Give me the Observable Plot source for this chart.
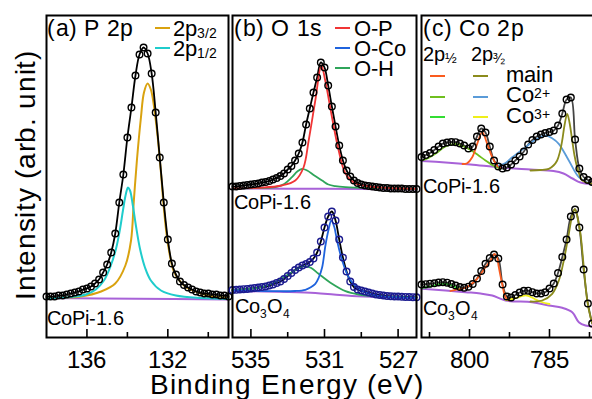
<!DOCTYPE html>
<html><head><meta charset="utf-8">
<script src="https://cdn.jsdelivr.net/npm/d3@7"></script>
<script src="https://cdn.jsdelivr.net/npm/@observablehq/plot@0.6"></script>
<style>
/* same Liberation Sans glyphs, with text boxes trimmed to the ink height */
@font-face{font-family:"TightSans";src:local("Liberation Sans"),local("LiberationSans"),local("Arial");ascent-override:74%;descent-override:16%;line-gap-override:0%}
@font-face{font-family:"TightSub";src:local("Liberation Sans"),local("LiberationSans"),local("Arial");ascent-override:74%;descent-override:0%;line-gap-override:0%}
body{margin:0;background:#fff}
#root{position:relative;width:592px;height:399px;overflow:hidden;background:#fff;font-family:"TightSans","Liberation Sans",Arial,sans-serif;color:#000}
.lbl{position:absolute;white-space:nowrap;line-height:0.8}
.sw{position:absolute;height:0;width:15px;border-top:2px solid}
.lbl sub,.lbl sup{font-size:0.62em;line-height:0}
.lbl sub.t{vertical-align:-0.15em;font-family:"TightSub","Liberation Sans",Arial,sans-serif}
.lbl sub.f{font-size:0.7em;vertical-align:-0.12em;font-family:"TightSub","Liberation Sans",Arial,sans-serif}
.lbl sup.t{vertical-align:0.3em}
</style></head><body><div id="root"></div>
<script>
// ---------- data: [binding energy (eV), intensity (arb.)] ----------
// (a) P 2p, CoPi-1.6
const aMeasured = [[138.0,41],[137.8,41],[137.6,41],[137.4,42],[137.2,42],[137.0,43],[136.8,44],[136.6,45],[136.4,46],[136.2,48],[136.0,49],[135.8,51],[135.6,54],[135.4,58],[135.2,65],[135.0,73],[134.8,85],[134.6,104],[134.4,135],[134.2,163],[134.0,200],[133.8,230],[133.6,262],[133.4,283],[133.2,290],[133.0,284],[132.8,264],[132.6,225],[132.4,180],[132.2,135],[132.0,98],[131.8,74],[131.6,63],[131.4,56],[131.2,52.5],[131.0,50],[130.8,48],[130.6,46],[130.4,45],[130.2,44],[130.0,44],[129.8,43],[129.6,43],[129.4,42],[129.2,42],[129.0,41]];
const aP32 = [[138,39.5],[136.3,41],[135.3,46],[134.6,54],[134.1,72],[133.82,97],[133.68,137],[133.53,177],[133.33,220],[133.18,245],[133.0,254],[132.84,248],[132.69,232],[132.5,200],[132.34,165],[132.2,130],[132.0,94],[131.7,66],[131.35,55],[131.0,49],[130.5,45],[130.0,42],[129,39.5]];
const aP12 = [[138,39],[136.8,40.5],[136.05,43],[135.56,48],[135.16,57],[134.82,72],[134.56,89],[134.36,109],[134.22,127],[134.07,144],[133.97,150],[133.87,147],[133.73,132],[133.58,112],[133.38,89],[133.13,70],[132.84,57],[132.34,47],[131.6,42],[130.36,39.5],[129,38.5]];
const aBase = [[138,39.5],[133.5,38.8],[129,38]];

// (b) O 1s
const bCoPi = [[536.0,151],[535.8,151],[535.6,151.5],[535.4,152],[535.2,152.5],[535.0,153],[534.8,153.5],[534.6,154],[534.4,155],[534.2,155.5],[534.0,156.5],[533.8,158],[533.6,159.5],[533.4,161.5],[533.2,164],[533.0,168],[532.8,171.5],[532.6,177],[532.4,184],[532.2,195],[532.0,213],[531.8,229],[531.6,245],[531.4,260],[531.2,275],[531.0,270],[530.8,252],[530.6,231],[530.4,211],[530.2,192],[530.0,177],[529.8,167],[529.6,161],[529.4,157],[529.2,154.5],[529.0,153],[528.8,152],[528.6,151.5],[528.4,151],[528.2,150.5],[528.0,150],[527.8,149.5],[527.6,149.5],[527.4,149],[527.2,149],[527.0,149],[526.8,149],[526.6,148.5],[526.4,148.5],[526.2,148.5],[526.0,148.5]];
const bCoPiOP = [[536,149],[534.59,149.7],[533.32,152],[532.59,157],[532.14,170],[531.86,197],[531.5,237],[531.17,272],[530.95,256],[530.59,220],[530.23,187],[529.86,164],[529.32,154],[528.23,150.3],[526,148.7]];
const bCoPiOH = [[536,149],[534.5,149.5],[533.68,150.3],[533.19,153.5],[532.77,160.3],[532.48,166],[532.22,168.7],[531.94,167],[531.55,162],[531.13,157],[530.79,153],[530.41,151.3],[529.86,150.3],[526,148.5]];
const bCoPiBase = [[536,149],[531,148.7],[526,148]];
const bCo3O4 = [[536.0,47.5],[535.8,47.7],[535.6,48],[535.4,48.3],[535.2,48.6],[535.0,49],[534.8,49.5],[534.6,50],[534.4,50.5],[534.2,51],[534.0,52],[533.8,53],[533.6,54.5],[533.4,56],[533.2,58.5],[533.0,61.5],[532.8,64.5],[532.6,67.5],[532.4,70],[532.2,72],[532.0,73.5],[531.8,75.5],[531.6,79],[531.4,85],[531.2,96],[531.0,110],[530.8,121],[530.6,126],[530.4,117],[530.2,98],[530.0,80],[529.8,66],[529.6,56],[529.4,50.5],[529.2,48],[529.0,47],[528.8,46],[528.6,45],[528.4,44],[528.2,43],[528.0,42.5],[527.8,42],[527.6,41.5],[527.4,41.2],[527.2,41],[527.0,41],[526.8,40.8],[526.6,40.6],[526.4,40.5],[526.2,40.3],[526.0,40.2]];
const bCo3O4OCo = [[536,47],[533.68,46.3],[532.59,46.5],[532.04,47.7],[531.77,50],[531.5,53.7],[531.31,60],[531.13,70],[530.95,92],[530.79,107],[530.63,117],[530.46,110],[530.32,97],[530.04,77],[529.68,60],[529.14,48.7],[528.23,42],[526,39.7]];
const bCo3O4OH = [[536,47.5],[534.59,49.7],[533.68,55.3],[532.77,65.3],[532.43,69],[532.04,71.3],[531.72,69.5],[531.32,63.7],[530.59,53.7],[529.86,46.3],[529.14,43],[528.23,41.3],[526,40]];
const bCo3O4Base = [[536,46.5],[533,45.5],[531.5,44.5],[530.5,43],[529.5,41.5],[528,40.5],[526,40]];

// (c) Co 2p
const cCoPi = [[809.0,180.5],[808.2,182.5],[807.4,184.5],[806.6,187.5],[805.8,191],[805.0,194],[804.2,195],[803.4,195.5],[802.6,195.3],[801.8,194],[801.0,192],[800.2,189],[799.4,191],[798.6,201],[797.8,209],[797.0,205],[796.2,191],[795.4,177],[794.6,171],[793.8,169],[793.0,170],[792.2,173],[791.4,177],[790.6,181],[789.8,186],[789.0,193],[788.2,197.5],[787.4,201],[786.6,203],[785.8,204.5],[785.0,205.5],[784.2,207],[783.4,212],[782.6,224],[781.8,238],[781.0,240],[780.2,198],[779.4,169],[778.6,160.5],[777.8,157.5],[777.0,155.5]];
const cCoPiMain12 = [[801.3,173.5],[800.43,174.3],[799.49,180.3],[798.56,193.7],[797.62,205.3],[796.68,193.7],[795.74,180.3],[794.81,172],[794.19,170]];
const cCoPiCo2_12 = [[808.9,177],[807.7,179.5],[806.4,183.7],[804.5,191],[802.6,193.5],[801.1,191],[799.5,186.5],[798.3,182],[797,177],[795.1,170.5],[794.2,169]];
const cCoPiCo2_32 = [[794.5,172],[793.25,174.5],[792,180.3],[790.8,185],[789.5,190.3],[787.6,198],[785.75,202],[784.44,199],[783.26,193.7],[781.38,177],[779.5,160.3],[777.63,154.3],[776.94,153.7]];
const cCoPiMain32 = [[788.56,167],[786.69,167.5],[785.13,168.7],[784.25,172],[783.56,177],[783.03,186],[782.62,197],[782.19,212],[781.68,223.7],[781.25,215],[780.74,197],[780.31,182],[779.81,170.3],[778.87,157],[778.06,155],[776.94,153.7]];
const cCoPiBase = [[809,176.5],[804.5,175],[799.81,173],[794.19,170],[788.56,168],[784.25,166.5],[782.37,164],[780.69,159],[779.19,155],[776.94,153.5]];
const cCo3O4 = [[809.0,53],[808.2,53.3],[807.4,53.8],[806.6,54.2],[805.8,55],[805.0,55.3],[804.2,54.8],[803.4,53.5],[802.6,52],[801.8,50.5],[801.0,49.8],[800.2,50.8],[799.4,53.5],[798.6,59],[797.8,66.5],[797.0,73.7],[796.2,79.5],[795.4,83],[794.6,79],[793.8,53],[793.0,41],[792.2,40],[791.4,42.5],[790.6,45],[789.8,46.7],[789.0,46.8],[788.2,45.3],[787.4,44],[786.6,44],[785.8,45.2],[785.0,49],[784.2,54],[783.4,64.5],[782.6,80.5],[781.8,98],[781.0,121],[780.2,128],[779.4,110],[778.6,68],[777.8,34],[777.0,14]];
const cCo3O4Co3_12 = [[808.87,49.7],[807.31,51],[806.0,53],[804.82,53.7],[803.56,52.5],[802.44,50],[801.37,47.7]];
const cCo3O4Main12 = [[803.56,46.5],[802.62,47.7],[800.75,49.7],[798.87,57],[797.0,70.3],[796.06,77],[795.31,83.7],[794.84,80],[794.51,70.3],[793.88,53.7],[793.25,40.3],[792.63,37]];
const cCo3O4Co3_32 = [[793.2,37.5],[792,38.5],[791,40],[790,41.7],[789.3,42],[788.5,40.5],[787.6,38],[786.5,35.5],[785,33.5]];
const cCo3O4Main32 = [[788.56,36],[786.37,37],[784.49,43.7],[783.25,57],[782.32,77],[781.38,103.7],[780.78,121],[780.25,128.7],[779.75,120],[779.19,103.7],[778.57,70.3],[777.93,37],[777.31,20.3],[776.94,13.7]];
const cCo3O4Base = [[808.87,48.7],[800.75,45.3],[797.94,44],[795.74,42],[793.25,37],[788.24,35.3],[785.13,32],[782.62,29.7],[780.74,25.3],[779.5,15.3],[778.25,12],[776.94,11]];

// ticks
const aTicks = [136, 132], aMinor = [134, 130];
const bTicks = [535, 531, 527], bMinor = [533, 529];
const cTicks = [800, 785], cMinor = [807.5, 792.5, 777.5];

// texts
const titles = ["(a) P 2p", "(b) O 1s", "(c) Co 2p"];
const samples = ["CoPi-1.6", "Co<sub>3</sub>O<sub>4</sub>"];
const legendA = ["2p<sub class='t'>3/2</sub>", "2p<sub class='t'>1/2</sub>"];
const legendB = ["O-P", "O-Co", "O-H"];
const legendCHead = ["2p<sub class='f'>½</sub>", "2p<sub class='f'>³⁄₂</sub>"];
const legendC = ["main", "Co<sup class='t'>2+</sup>", "Co<sup class='t'>3+</sup>"];
const xTitle = "Binding Energy (eV)";
const yTitle = "Intensity (arb. unit)";

// colors
const C = {purple:"#a862d8", gold:"#d9a20f", cyan:"#1fcccc", red:"#f03535", blue:"#1f63dd", green:"#2fa55a",
  navy:"#1b1b8f", orange:"#fa5b1e", ygreen:"#6fbf1f", bgreen:"#33dd33", olive:"#8b8b1c", lblue:"#5a9bd8", yellow:"#efef1a"};

// ---------- drawing ----------
const root = document.getElementById("root");
const FONT = "TightSans, Liberation Sans, Arial, sans-serif";
const X = d => d[0], Y = d => d[1];
const line = (data, stroke, sw = 1.8) => Plot.line(data, {x: X, y: Y, stroke, strokeWidth: sw, curve: "catmull-rom"});
const dots = (data, stroke) => Plot.dot(data, {x: X, y: Y, r: 3.3, stroke, strokeWidth: 1.4, fill: "none"});

function panel(x0, x1, domain, majors, minors, marks) {
  const svg = Plot.plot({
    width: x1 - x0 + 20, height: 382,
    marginTop: 10, marginLeft: 10, marginRight: 10, marginBottom: 50,
    x: {domain}, y: {domain: [0, 322], axis: null},
    style: {background: "transparent", overflow: "visible", fontFamily: FONT, color: "black"},
    marks: [
      ...marks,
      Plot.tickX(majors, {x: d => d, insetTop: 322 - 8, strokeWidth: 1.6}),
      Plot.tickX(minors, {x: d => d, insetTop: 322 - 5, strokeWidth: 1.6}),
      Plot.axisX(majors, {anchor: "bottom", tickSize: 0, tickPadding: 13, fontSize: 24, label: null}),
      Plot.frame({strokeWidth: 2})
    ]
  });
  svg.style.position = "absolute";
  svg.style.left = (x0 - 10) + "px";
  svg.style.top = "5px";
  root.appendChild(svg);
}

panel(46, 228, [138, 129], aTicks, aMinor, [
  line(aBase, C.purple, 2),
  line(aP32, C.gold, 2),
  line(aP12, C.cyan, 2),
  line(aMeasured, "black", 1.8),
  dots(aMeasured, "black")
]);

panel(232, 416, [536, 526], bTicks, bMinor, [
  line(bCoPiBase, C.purple, 2),
  line(bCo3O4Base, C.purple, 2),
  line(bCoPi, "black", 1.8),
  line(bCo3O4, "black", 1.8),
  line(bCoPiOH, C.green, 1.8),
  line(bCoPiOP, C.red, 1.8),
  line(bCo3O4OH, C.green, 1.8),
  line(bCo3O4OCo, C.blue, 1.8),
  dots(bCoPi, "black"),
  dots(bCo3O4, C.navy)
]);

panel(421, 597, [809, 776], cTicks, cMinor, [
  line(cCoPiBase, C.purple, 2),
  line(cCo3O4Base, C.purple, 2),
  line(cCoPi, "#444", 1.8),
  line(cCo3O4, "#444", 1.8),
  line(cCoPiCo2_12, C.ygreen, 1.8),
  line(cCoPiMain12, C.orange, 1.8),
  line(cCoPiCo2_32, C.lblue, 1.8),
  line(cCoPiMain32, C.olive, 1.8),
  line(cCo3O4Co3_12, C.bgreen, 1.8),
  line(cCo3O4Main12, C.orange, 1.8),
  line(cCo3O4Co3_32, C.yellow, 1.8),
  line(cCo3O4Main32, C.olive, 1.8),
  dots(cCoPi, "black"),
  dots(cCo3O4, "black")
]);

// ---------- text overlays ----------
// with the trimmed metrics, the baseline sits lh/2 + 0.29 em below the top of a line box
const baseOff = (lh, size) => lh / 2 + 0.29 * size;
function text(html, left, baseline, size, extra = {}) {
  const d = document.createElement("div");
  d.className = "lbl";
  d.innerHTML = html;
  d.style.left = left + "px";
  d.style.top = (baseline - baseOff(0.8 * size, size)) + "px";
  d.style.fontSize = size + "px";
  Object.assign(d.style, extra);
  root.appendChild(d);
  return d;
}
function block(lines, left, baseline, size, lh) {
  const d = document.createElement("div");
  d.className = "lbl";
  d.innerHTML = lines.join("<br>");
  Object.assign(d.style, {left: left + "px", top: (baseline - baseOff(lh, size)) + "px",
    fontSize: size + "px", lineHeight: lh + "px"});
  root.appendChild(d);
}
function swatch(color, left, y) {
  const s = document.createElement("div");
  s.className = "sw";
  s.style.left = left + "px";
  s.style.top = (y - 1) + "px";
  s.style.borderTopColor = color;
  root.appendChild(s);
}

text(titles[0], 47, 37, 23, {letterSpacing: "0.6px"});
text(titles[1], 234, 37, 23, {letterSpacing: "0.6px"});
text(titles[2], 423, 37, 23, {letterSpacing: "0.6px"});

swatch(C.gold, 155, 28); swatch(C.cyan, 155, 48);
block(legendA, 173, 36, 22, 20);

[C.red, C.blue, C.green].forEach((c, i) => swatch(c, 335, 28 + i * 20));
block(legendB, 354, 36, 22, 20);

text(legendCHead[0], 423, 61, 20);
text(legendCHead[1], 471, 61, 20);
[[C.orange, C.olive], [C.ygreen, C.lblue], [C.bgreen, C.yellow]].forEach((cc, i) => {
  const y = 76 + i * 20.7;
  swatch(cc[0], 430, y); swatch(cc[1], 473, y);
});
block(legendC, 506, 82.5, 22, 20.7);

text(samples[0], 47, 325, 20);
text(samples[0], 234, 208.5, 20);
text(samples[1], 235, 313, 20);
text(samples[0], 423, 193, 20);
text(samples[1], 423, 315, 20);

// x-axis title, 18px line box
text(xTitle, 87, 394, 28, {width: "400px", textAlign: "center", letterSpacing: "1.1px", lineHeight: "18px",
  top: (394 - baseOff(18, 28)) + "px"});
// y-axis title, rotated about its centre; baseline lands at x ≈ 34.7
const yt = document.createElement("div");
yt.className = "lbl";
yt.textContent = yTitle;
const ycx = 34.7 - (baseOff(28, 28) - 14);
Object.assign(yt.style, {left: (ycx - 150) + "px", top: (175 - 14) + "px", width: "300px", height: "28px",
  lineHeight: "28px", fontSize: "28px", textAlign: "center", letterSpacing: "0.7px", transform: "rotate(-90deg)"});
root.appendChild(yt);
</script></body></html>
